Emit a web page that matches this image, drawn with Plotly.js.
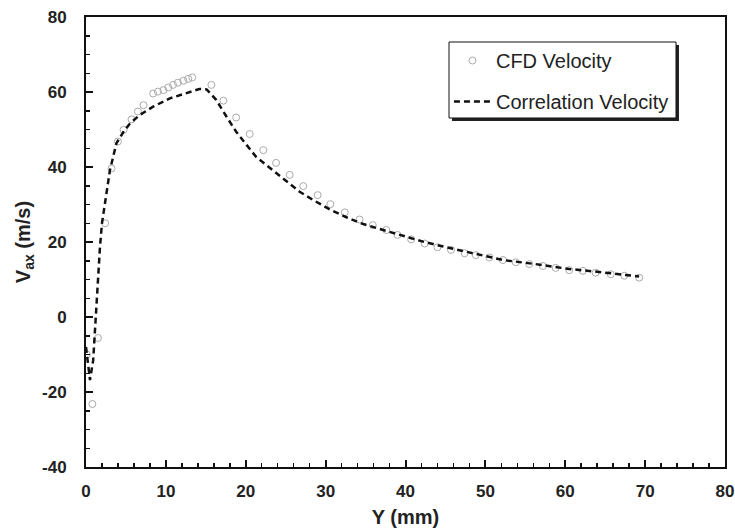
<!DOCTYPE html>
<html>
<head>
<meta charset="utf-8">
<script src="https://cdn.plot.ly/plotly-3.0.1.min.js"></script>
<style>html,body{margin:0;padding:0;background:#fff;}#chart{width:735px;height:530px;}</style>
</head>
<body>
<div id="chart"></div>
<script>
// CFD velocity (open circles)
const cfdY = [0.1, 0.8, 1.5, 2.4, 3.2, 4.0, 4.7, 5.7, 6.5, 7.2, 8.4, 9.0, 9.7, 10.3, 10.9, 11.5, 12.2, 12.8, 13.3, 15.7, 17.2, 18.8, 20.5, 22.2, 23.8, 25.5, 27.2, 29.0, 30.6, 32.4, 34.25, 35.9, 37.6, 39.0, 40.7, 42.4, 44.0, 45.7, 47.4, 48.8, 50.5, 52.2, 53.8, 55.5, 57.2, 58.8, 60.5, 62.2, 63.8, 65.7, 67.4, 69.25];
const cfdV = [-10, -23.2, -5.6, 25, 39.6, 46.8, 49.9, 52.7, 54.8, 56.5, 59.6, 60.1, 60.5, 61.2, 61.9, 62.5, 63.0, 63.5, 63.9, 61.9, 57.7, 53.2, 48.8, 44.5, 41.1, 37.9, 34.9, 32.5, 30.1, 27.9, 26.0, 24.5, 23.2, 21.9, 20.7, 19.6, 18.6, 17.9, 17.0, 16.5, 15.9, 15.2, 14.6, 14.1, 13.6, 13.1, 12.5, 12.3, 11.8, 11.4, 11.0, 10.5];
// Correlation velocity (dashed line)
const corY = [0, 0.5, 0.9, 1.1, 1.4, 1.75, 2.0, 3.0, 3.4, 3.8, 4.7, 5.5, 6.75, 8.4, 10.5, 13, 14.2, 15.1, 16.3, 17.6, 18.8, 20.1, 21.3, 23, 24.7, 26.75, 28.6, 30.5, 32.6, 34.7, 37.2, 39.7, 42.2, 45.1, 48.4, 52.2, 56.3, 60.5, 64.7, 69.25];
const corV = [-8, -16.8, -11.5, -3.5, 8, 18.7, 25, 39.2, 42.7, 46.3, 49.4, 51.6, 53.9, 56.1, 58.3, 60.1, 60.8, 60.7, 57.9, 53.4, 49.4, 45.9, 42.7, 39.8, 36.8, 33.4, 31, 28.7, 26.6, 24.8, 23.2, 21.6, 20.1, 18.6, 17, 15.2, 14.1, 12.8, 11.9, 10.8];
const xTicks = [0, 10, 20, 30, 40, 50, 60, 70, 80];
const yTicks = [-40, -20, 0, 20, 40, 60, 80];

const FONT = 'Liberation Sans, Arial, sans-serif';

const traces = [
  {
    x: cfdY, y: cfdV, name: 'CFD Velocity', type: 'scatter', mode: 'markers',
    legendgroup: 'a',
    marker: {symbol: 'circle-open', size: 7, color: '#aaaaaa', line: {width: 1, color: '#aaaaaa'}}
  },
  {
    x: corY, y: corV, name: 'Correlation Velocity', type: 'scatter', mode: 'lines',
    legendgroup: 'b',
    line: {color: '#111111', width: 2.5, dash: '6px,4px'}
  }
];

const axisCommon = {
  showgrid: false, zeroline: false, showline: true, linecolor: '#111', linewidth: 2,
  mirror: true, ticks: 'inside', ticklen: 7, tickwidth: 2, tickcolor: '#111',
  tickfont: {family: FONT, size: 17, color: '#222', weight: 'bold'},
};

// pixel -> paper helpers for the legend frame (plot area: 86..725 x 17..467)
const px = v => (v - 86) / 639;
const py = v => (467 - v) / 450;

const layout = {
  width: 735, height: 530,
  margin: {l: 86, r: 10, t: 17, b: 63},
  paper_bgcolor: '#fff', plot_bgcolor: '#fff',
  showlegend: true,
  xaxis: Object.assign({}, axisCommon, {
    range: [0, 80], tickvals: xTicks, ticktext: xTicks.map(String),
    ticklabelstandoff: 8,
    minor: {ticks: 'inside', dtick: 2, ticklen: 4, tickwidth: 1.5, tickcolor: '#111'},
    title: {text: 'Y (mm)', font: {family: FONT, size: 20, color: '#222', weight: 'bold'}, standoff: 10}
  }),
  yaxis: Object.assign({}, axisCommon, {
    range: [-40, 80], tickvals: yTicks, ticktext: yTicks.map(String),
    ticklabelstandoff: 14,
    minor: {ticks: 'inside', dtick: 5, ticklen: 4, tickwidth: 1.5, tickcolor: '#111'},
    title: {text: 'V<sub>ax</sub> (m/s)', font: {family: FONT, size: 20, color: '#222', weight: 'bold'}, standoff: 6}
  }),
  legend: {
    x: 0.568, y: py(41), xanchor: 'left', yanchor: 'top',
    bgcolor: 'rgba(0,0,0,0)', borderwidth: 0,
    font: {family: FONT, size: 20, color: '#222'},
    itemwidth: 37,
    tracegroupgap: 12, traceorder: 'grouped'
  },
  shapes: [
    {type: 'rect', xref: 'paper', yref: 'paper', layer: 'above',
     x0: px(452), x1: px(679), y0: py(121), y1: py(45),
     fillcolor: '#222', line: {width: 0}},
    {type: 'rect', xref: 'paper', yref: 'paper', layer: 'above',
     x0: px(449), x1: px(676), y0: py(118), y1: py(42),
     fillcolor: '#fff', line: {width: 1, color: '#111'}}
  ]
};

Plotly.newPlot('chart', traces, layout, {displayModeBar: false, staticPlot: true});
</script>
</body>
</html>
